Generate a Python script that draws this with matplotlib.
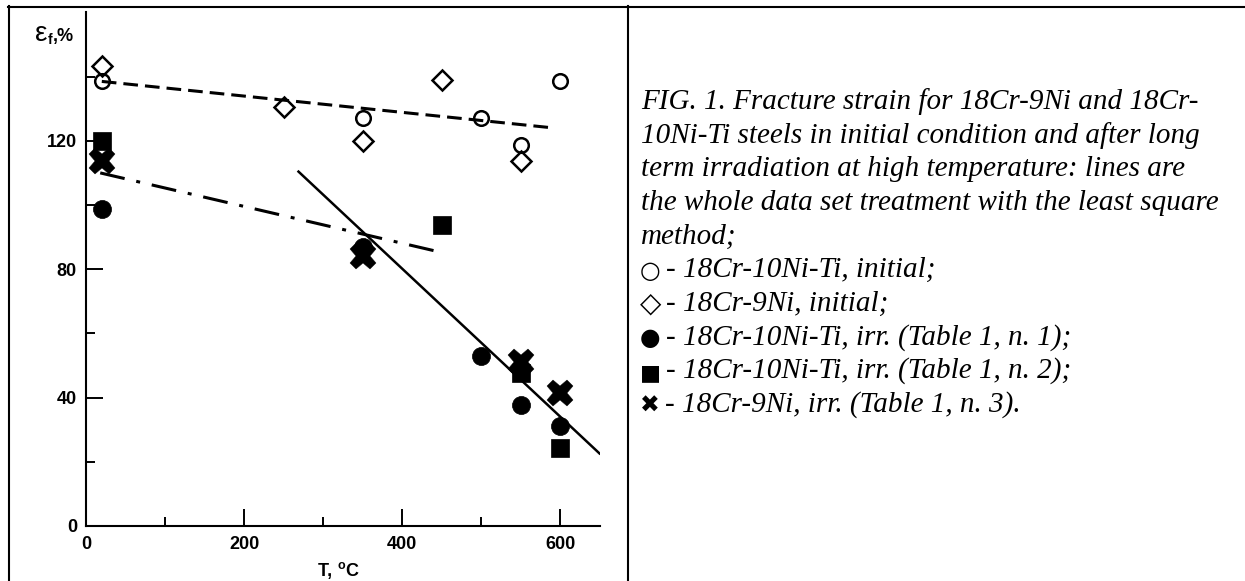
import matplotlib
matplotlib.use("Agg")
import matplotlib.pyplot as plt
from matplotlib.lines import Line2D

# ---------------- data ----------------
T_open_circle = [20, 350, 500, 550, 600]
e_open_circle = [138.5, 127.0, 127.0, 118.7, 138.7]

T_open_diamond = [20, 250, 350, 450, 550]
e_open_diamond = [143.4, 130.6, 120.0, 139.0, 113.8]

T_fill_circle = [20, 350, 500, 550, 600]
e_fill_circle = [98.8, 87.0, 53.0, 37.7, 31.1]

T_fill_square = [20, 450, 550, 600]
e_fill_square = [120.0, 93.8, 47.6, 24.2]

T_cross = [20, 350, 550, 600]
e_cross = [113.7, 84.0, 51.2, 41.3]

# least-square lines (end points)
T_fit_initial = [20, 592]
e_fit_initial = [138.5, 124.0]
T_fit_dashdot = [18, 440]
e_fit_dashdot = [110.0, 85.8]
T_fit_solid = [269, 650]
e_fit_solid = [110.4, 22.6]

x_major = [0, 200, 400, 600]
x_minor = [100, 300, 500]
y_major = [0, 40, 80, 120]
y_minor = [20, 60, 100, 140]

caption_lines = [
    "FIG. 1. Fracture strain for 18Cr-9Ni and 18Cr-",
    "10Ni-Ti steels in initial condition and after long",
    "term irradiation at high temperature: lines are",
    "the whole data set treatment with the least square",
    "method;",
]
legend_symbols = ["\u25CB", "\u25C7", "\u25CF", "\u25A0", "\u2716"]
legend_symbol_sizes = [17, 20, 17, 16, 17]
legend_texts = [
    "- 18Cr-10Ni-Ti, initial;",
    "- 18Cr-9Ni, initial;",
    "- 18Cr-10Ni-Ti, irr. (Table 1, n. 1);",
    "- 18Cr-10Ni-Ti, irr. (Table 1, n. 2);",
    "- 18Cr-9Ni, irr. (Table 1, n. 3).",
]

# ---------------- figure ----------------
W, H = 1245, 581
fig = plt.figure(figsize=(W / 100, H / 100), dpi=100)
fig.patch.set_facecolor("white")
renderer = fig.canvas.get_renderer()


def fx(px):
    return px / W


def fy(py):
    return 1 - py / H


def right_px(t):
    return t.get_window_extent(renderer=renderer).x1


SANS = "Liberation Sans"
SERIF = "Liberation Serif"

ax = fig.add_axes([fx(86), fy(526), fx(599.5) - fx(86), fy(12.4) - fy(526)])
ax.set_xlim(0, 650)
ax.set_ylim(0, 160)
for s in ["top", "right"]:
    ax.spines[s].set_visible(False)
for s in ["left", "bottom"]:
    ax.spines[s].set_linewidth(1.5)
    ax.spines[s].set_color("black")

ax.set_xticks(x_major)
ax.set_xticks(x_minor, minor=True)
ax.set_yticks(y_major)
ax.set_yticks(y_minor, minor=True)
ax.tick_params(which="major", direction="in", length=12.2, width=1.4, pad=7,
               labelsize=13, colors="black")
ax.tick_params(which="minor", direction="in", length=6.5, width=1.4)
ax.tick_params(axis="y", which="major", pad=6.5)
for lab in ax.get_xticklabels() + ax.get_yticklabels():
    lab.set_fontfamily(SANS)
    lab.set_fontweight("bold")

# fit lines
ax.plot(T_fit_initial, e_fit_initial, color="black", lw=2.2, dashes=(4.8, 2.3),
        dash_capstyle="butt")
ax.plot(T_fit_dashdot, e_fit_dashdot, color="black", lw=2.2,
        dashes=(8.2, 3.9, 1.3, 3.9), dash_capstyle="butt")
ax.plot(T_fit_solid, e_fit_solid, color="black", lw=1.8)

# markers
ax.plot(T_open_circle, e_open_circle, ls="none", marker="o", ms=10.5,
        mfc="none", mec="black", mew=1.8)
ax.plot(T_open_diamond, e_open_diamond, ls="none", marker="D", ms=10,
        mfc="none", mec="black", mew=1.8)
ax.plot(T_fill_circle, e_fill_circle, ls="none", marker="o", ms=13,
        mfc="black", mec="black", mew=0.5)
ax.plot(T_fill_square, e_fill_square, ls="none", marker="s", ms=12.5,
        mfc="black", mec="black", mew=0.5)
ax.plot(T_cross, e_cross, ls="none", marker="X", ms=19,
        mfc="black", mec="black", mew=0.3)

# y label: epsilon_f,%
t_eps = fig.text(fx(35), fy(41), "\u03B5", fontfamily=SANS, fontsize=20,
                 ha="left", va="baseline")
x1 = right_px(t_eps)
t_f = fig.text(fx(x1 + 0.5), fy(44), "f", fontfamily=SANS, fontsize=10,
               fontweight="bold", ha="left", va="baseline")
x2 = right_px(t_f)
fig.text(fx(x2 + 0.5), fy(41), ",%", fontfamily=SANS, fontsize=13,
         fontweight="bold", ha="left", va="baseline")

# x label
t_T = fig.text(fx(318), fy(576), "T, ", fontfamily=SANS, fontsize=13,
               fontweight="bold", ha="left", va="baseline")
xo = right_px(t_T)
t_o = fig.text(fx(xo), fy(569), "o", fontfamily=SANS, fontsize=9,
               fontweight="bold", ha="left", va="baseline")
fig.text(fx(right_px(t_o) + 0.5), fy(576), "C", fontfamily=SANS, fontsize=13,
         fontweight="bold", ha="left", va="baseline")

# frame lines
lw_frame = 1.5
fig.add_artist(Line2D([fx(8), fx(1245)], [fy(6.5), fy(6.5)], color="black", lw=lw_frame))
fig.add_artist(Line2D([fx(8.5), fx(8.5)], [fy(6), fy(581)], color="black", lw=lw_frame))
fig.add_artist(Line2D([fx(628), fx(628)], [fy(6), fy(581)], color="black", lw=lw_frame))

# caption
base0 = 109
step = 33.6
for i, line in enumerate(caption_lines):
    fig.text(fx(641), fy(base0 + step * i), line, fontfamily=SERIF,
             style="italic", fontsize=21, ha="left", va="baseline")
for j, (sym, ssz, txt) in enumerate(zip(legend_symbols, legend_symbol_sizes, legend_texts)):
    yb = base0 + step * (len(caption_lines) + j)
    ts = fig.text(fx(640), fy(yb + 1), sym, fontfamily="DejaVu Sans", fontsize=ssz,
                  ha="left", va="baseline")
    xs = right_px(ts)
    fig.text(fx(xs + 5), fy(yb), txt, fontfamily=SERIF, style="italic",
             fontsize=21, ha="left", va="baseline")

fig.savefig("out.png", dpi=100, facecolor="white")
